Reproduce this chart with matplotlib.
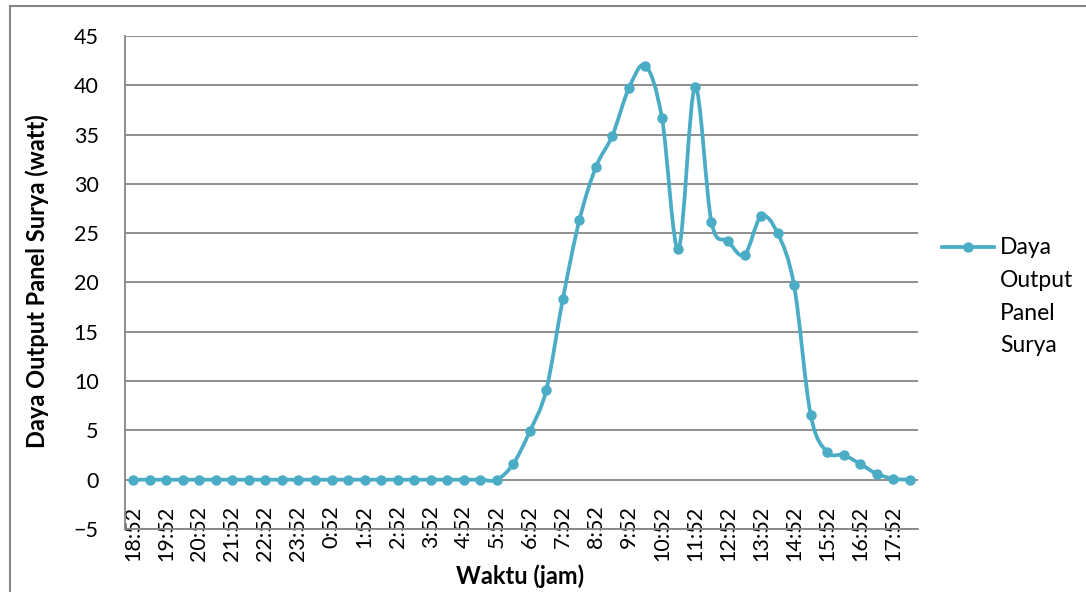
import matplotlib
matplotlib.use('Agg')
import matplotlib.pyplot as plt
from matplotlib.path import Path
from matplotlib.patches import PathPatch
from matplotlib.lines import Line2D
import numpy as np

# half-hourly readings, 18:52 .. 18:22 next day
daya = [0, 0, 0, 0, 0, 0, 0, 0, 0, 0, 0, 0,
        0, 0, 0, 0, 0, 0, 0, 0, 0, 0, 0, 1.6,
        4.9, 9.1, 18.3, 26.3, 31.7, 34.9, 39.7, 42.0, 36.7, 23.4, 39.8, 26.1,
        24.2, 22.8, 26.7, 25.0, 19.7, 6.6, 2.8, 2.5, 1.6, 0.6, 0.1, 0.0]
jam = ['18:52', '19:52', '20:52', '21:52', '22:52', '23:52', '0:52', '1:52',
       '2:52', '3:52', '4:52', '5:52', '6:52', '7:52', '8:52', '9:52',
       '10:52', '11:52', '12:52', '13:52', '14:52', '15:52', '16:52', '17:52']
legend_lines = ['Daya', 'Output', 'Panel', 'Surya']

warna = '#4BACC6'
abu = '#868686'
plt.rcParams['font.family'] = ['Lato', 'DejaVu Sans']

W, H = 1086, 592
fig = plt.figure(figsize=(W / 100, H / 100), dpi=100)
ax = fig.add_axes([125 / W, 1 - 529 / H, (918 - 125) / W, (529 - 36) / H])

x = np.arange(len(daya))
y = np.array(daya, dtype=float)

# excel-like smoothed line: catmull-rom segments as cubic beziers
verts = [(x[0], y[0])]
codes = [Path.MOVETO]
n = len(x)
for i in range(n - 1):
    p0 = max(i - 1, 0)
    p3 = min(i + 2, n - 1)
    c1 = (x[i] + (x[i + 1] - x[p0]) / 6, y[i] + (y[i + 1] - y[p0]) / 6)
    c2 = (x[i + 1] - (x[p3] - x[i]) / 6, y[i + 1] - (y[p3] - y[i]) / 6)
    verts += [c1, c2, (x[i + 1], y[i + 1])]
    codes += [Path.CURVE4] * 3
ax.add_patch(PathPatch(Path(verts, codes), fill=False, edgecolor=warna,
                       lw=2.7, capstyle='round', joinstyle='round', zorder=3))
ax.plot(x, y, 'o', ms=6.5, color=warna, zorder=4)

ax.set_xlim(-0.5, len(daya) - 0.5)
ax.set_ylim(-5, 45)
ax.set_yticks(range(-5, 50, 5))
ax.set_xticks(x[::2])
ax.set_xticklabels(jam, rotation=90)
ax.yaxis.grid(True, color=abu, lw=1.3)
ax.set_axisbelow(True)
for s in ['top', 'right']:
    ax.spines[s].set_visible(False)
for s in ['left', 'bottom']:
    ax.spines[s].set_color(abu)
    ax.spines[s].set_linewidth(1.3)
ax.tick_params(axis='y', length=0, pad=19, labelsize=15.5)
ax.tick_params(axis='x', length=0, pad=-17, labelsize=15.5)

fig.text(37.5 / W, 1 - 281 / H, 'Daya Output Panel Surya (watt)', rotation=90,
         ha='center', va='center', fontsize=17, fontweight='bold')
fig.text(520 / W, 1 - 576 / H, 'Waktu (jam)', ha='center', va='center',
         fontsize=17, fontweight='bold')

# legend
fig.add_artist(Line2D([942 / W, 994 / W], [1 - 247 / H] * 2, color=warna, lw=2.7))
fig.add_artist(Line2D([968 / W], [1 - 247 / H], marker='o', ms=6.5, color=warna))
for k, t in enumerate(legend_lines):
    fig.text(1000 / W, 1 - (247 + 33 * k) / H, t, ha='left', va='center', fontsize=16.5)

# chart frame
fig.add_artist(Line2D([9.5 / W, 9.5 / W], [0, 1 - 5.5 / H], color=abu, lw=1.5))
fig.add_artist(Line2D([9.5 / W, 1], [1 - 5.5 / H] * 2, color=abu, lw=1.5))

fig.savefig('out.png', dpi=100)
